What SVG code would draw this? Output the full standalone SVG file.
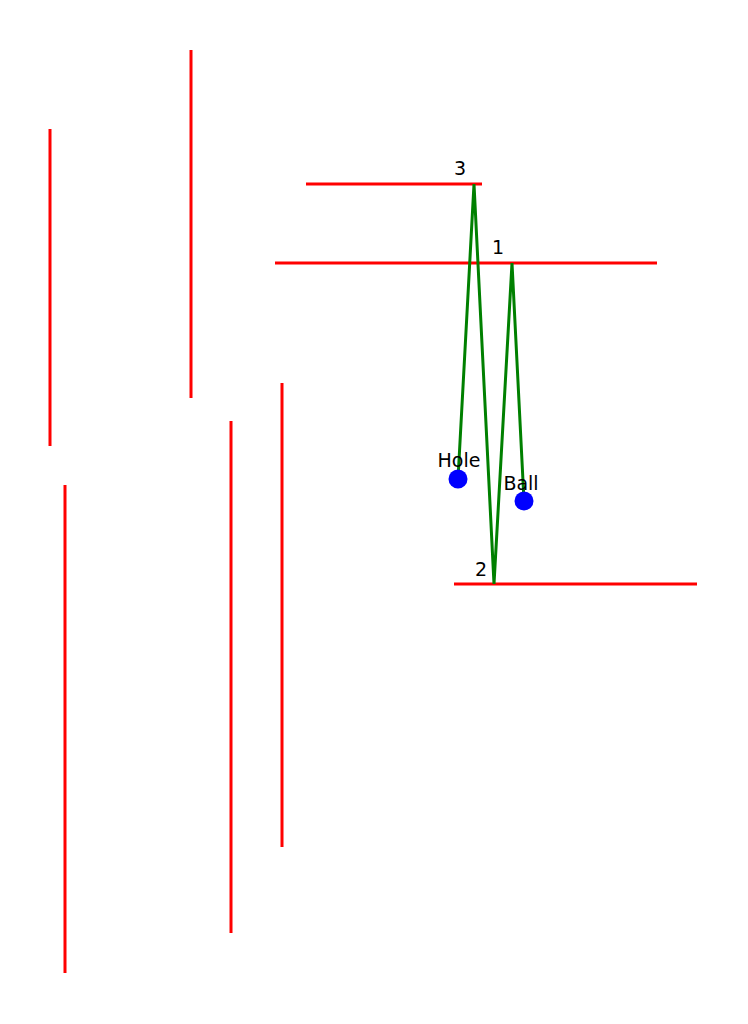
<svg xmlns="http://www.w3.org/2000/svg" width="748" height="1024" viewBox="0 0 748 1024">
<style>
.wall{stroke:#ff0000;stroke-width:3;fill:none}
.path{stroke:#008000;stroke-width:3;fill:none;stroke-linejoin:miter}
.pt{fill:#0000ff}
.lbl{font-family:"DejaVu Sans",sans-serif;font-size:19px;fill:#000;text-anchor:middle}
</style>
<rect width="748" height="1024" fill="#fff"/>
<g id="walls">
<line class="wall" x1="50" y1="129" x2="50" y2="446"/>
<line class="wall" x1="191" y1="50" x2="191" y2="398"/>
<line class="wall" x1="65" y1="485" x2="65" y2="973"/>
<line class="wall" x1="231" y1="421" x2="231" y2="933"/>
<line class="wall" x1="282" y1="383" x2="282" y2="847"/>
</g>
<g id="mirror3">
<line class="wall" x1="306" y1="184" x2="482" y2="184"/>
<text class="lbl" x="460" y="175">3</text>
</g>
<g id="mirror1">
<line class="wall" x1="275" y1="263" x2="657" y2="263"/>
<text class="lbl" x="498" y="254">1</text>
</g>
<g id="mirror2">
<line class="wall" x1="454" y1="584" x2="697" y2="584"/>
<text class="lbl" x="481" y="576">2</text>
</g>
<g id="connectors">
<polyline class="path" points="524,501 512,263 494,584 474,184 458,479"/>
</g>
<g id="hole">
<circle class="pt" cx="458" cy="479" r="9.5"/>
<text class="lbl" x="459" y="467">Hole</text>
</g>
<g id="ball">
<circle class="pt" cx="524" cy="501" r="9.5"/>
<text class="lbl" x="521" y="490">Ball</text>
</g>
</svg>
